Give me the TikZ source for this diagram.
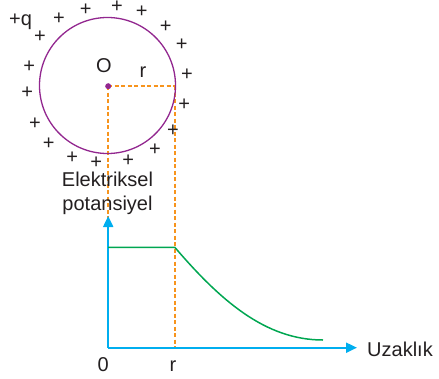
\documentclass[tikz,border=0pt]{standalone}
\usepackage{fontspec}
\setmainfont{Liberation Sans}
\usetikzlibrary{arrows.meta}
\definecolor{purp}{RGB}{146,39,143}
\definecolor{orng}{RGB}{247,148,29}
\definecolor{axblue}{RGB}{0,174,239}
\definecolor{grn}{RGB}{0,166,81}
\definecolor{txt}{RGB}{35,31,32}
\begin{document}
\begin{tikzpicture}[x=1pt,y=-1pt,
  lbl/.style={font=\fontsize{20}{23}\selectfont, text=txt, inner sep=0pt},
  plus/.style={lbl, anchor=center},
  guide/.style={draw=orng, line width=1.5pt, dash pattern=on 4pt off 2.5pt},
  axis/.style={axblue, line width=2pt, -{Triangle[length=11pt,width=10pt]}},
  sphere/.style={purp, line width=1.3pt},
  curve/.style={grn, line width=1.5pt}]
\useasboundingbox (0,0) rectangle (439,378);
% sphere
\coordinate (O) at (107.5,85.5);
\coordinate (Od) at (108.2,86.2);
\coordinate (R) at (174.8,86.2);
% graph points
\coordinate (org) at (108.2,347.7);
\coordinate (ytip) at (108.2,216);
\coordinate (xtip) at (357,347.7);
\coordinate (rax) at (174.8,347.7);
\coordinate (p0) at (108.2,247.3);
\coordinate (p1) at (174.8,247.3);
\coordinate (p2) at (323,340);
% dashed guides
\draw[guide] (Od) -- (R);
\draw[guide] (Od) -- (org);
\draw[guide] (R) -- (rax);
\draw[sphere] (O) circle[radius=68];
\fill[purp] (Od) circle[radius=3];
% axes
\draw[axis] (org) -- (ytip);
\draw[axis] (org) -- (xtip);
% potential curve
\draw[curve] (p0) -- (p1) .. controls (220,300) and (265,340) .. (p2);
% labels
\node[lbl, anchor=base] (lO) at (104,72.7) {O};
\node[lbl, anchor=base] (lr) at (143,77.7) {r};
\node[lbl, anchor=base] (lq) at (20.5,25) {+q};
\node[lbl, anchor=base] (l1) at (107.5,186.7) {Elektriksel};
\node[lbl, anchor=base] (l2) at (107.5,210) {potansiyel};
\node[lbl, anchor=base west] (lx) at (367,356.5) {Uzaklık};
\node[lbl, anchor=base] (l0) at (103.3,371) {0};
\node[lbl, anchor=base] (lr2) at (173,371) {r};
% charges
\foreach \px/\py [count=\i] in {59/19, 85.7/9.5, 117/6.5, 141.7/11.8, 165.7/26.7, 181.7/44.3,
  187/75, 184.3/104.3, 173/131, 155/150, 128.3/160.3, 96.3/162.7, 72.3/157.7,
  48.7/144, 35/123.3, 27.3/92.7, 29.3/66.7, 40/36.7}
  \node[plus] (c\i) at (\px,\py) {+};
\end{tikzpicture}
\end{document}
